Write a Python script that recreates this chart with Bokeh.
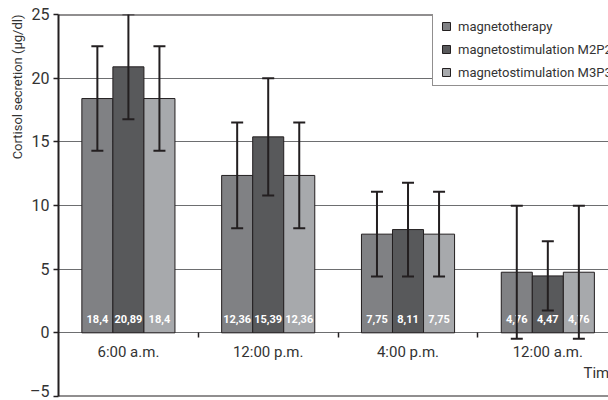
from bokeh.plotting import figure
from bokeh.models import (ColumnDataSource, Range1d, FixedTicker, LinearAxis, Whisker, TeeHead,
                          Legend, LegendItem, Span, Title)
from bokeh.core.properties import value
from bokeh.embed import file_html
from bokeh.resources import INLINE

# ---- data ----
times = ["6:00 a.m.", "12:00 p.m.", "4:00 p.m.", "12:00 a.m."]
series_names = ["magnetotherapy", "magnetostimulation M2P2", "magnetostimulation M3P3"]
magnetotherapy = [18.4, 12.36, 7.75, 4.76]
m2p2 = [20.89, 15.39, 8.11, 4.47]
m3p3 = [18.4, 12.36, 7.75, 4.76]
err_magnetotherapy = [4.1, 4.15, 3.33, 5.22]
err_m2p2 = [4.12, 4.6, 3.68, 2.72]
err_m3p3 = [4.1, 4.15, 3.33, 5.22]
y_ticks = [-5, 0, 5, 10, 15, 20, 25]
y_label = "Cortisol secretion (µg/dl)"
x_label = "Time"

# ---- style ----
FONT = "Roboto"
TXT = "#333333"
DARK = "#231f20"
colors = ["#808184", "#58595b", "#a7a9ac"]
bar_w = 0.222
ncat = len(times)

p = figure(width=608, height=400, x_range=Range1d(0, 3.934), y_range=Range1d(-5, 25),
           x_axis_type=None, output_backend="svg", toolbar_location=None,
           min_border_left=58, min_border_right=0, min_border_top=14, min_border_bottom=4)
p.outline_line_color = None
p.background_fill_color = "white"
p.border_fill_color = "white"

# y axis
yax = p.yaxis[0]
yax.ticker = FixedTicker(ticks=y_ticks)
yax.major_label_overrides = {-5: "–5"}
yax.axis_line_color = DARK
yax.axis_line_width = 2
yax.major_tick_line_color = DARK
yax.major_tick_line_width = 1.5
yax.major_tick_out = 5
yax.major_tick_in = 0
yax.minor_tick_line_color = None
yax.major_label_standoff = 4
yax.major_label_text_font = FONT
yax.major_label_text_font_size = "16px"
yax.major_label_text_color = TXT
p.ygrid.grid_line_color = "#6d6e70"
p.ygrid.grid_line_width = 1

# frame top / bottom lines
p.add_layout(Span(location=25, dimension="width", line_color=DARK, line_width=2))
p.add_layout(Span(location=-5, dimension="width", line_color=DARK, line_width=2))

# x axis at y=0: boundary ticks
centers = [i + 0.5 for i in range(ncat)]
bounds = [i for i in range(1, ncat)]
xt = LinearAxis(ticker=FixedTicker(ticks=bounds), fixed_location=0,
                major_label_overrides={b: "" for b in bounds},
                axis_line_color=None, major_tick_line_color=DARK, major_tick_line_width=1.5,
                major_tick_out=5, major_tick_in=0, minor_tick_line_color=None)
p.add_layout(xt, "below")
xl = LinearAxis(ticker=FixedTicker(ticks=centers), fixed_location=0,
                major_label_overrides={c: t for c, t in zip(centers, times)},
                axis_line_color=None, major_tick_line_color=None, minor_tick_line_color=None,
                major_tick_out=0, major_tick_in=0, major_label_standoff=10,
                major_label_text_font=FONT, major_label_text_font_size="15px",
                major_label_text_color=TXT)
p.add_layout(xl, "below")

# bars
all_vals = [magnetotherapy, m2p2, m3p3]
all_errs = [err_magnetotherapy, err_m2p2, err_m3p3]
wx, wu, wl = [], [], []
lx, ly, lt = [], [], []
legend_items = []
for k, (vals, errs, col, name) in enumerate(zip(all_vals, all_errs, colors, series_names)):
    off = (k - 1) * bar_w
    xs = [c + off for c in centers]
    src = ColumnDataSource(dict(x=xs, top=vals))
    p.vbar(x="x", top="top", bottom=0, width=bar_w, source=src,
           fill_color=col, line_color=DARK, line_width=1)
    # hidden proxy used only for the small square legend swatch
    proxy = p.scatter(x="x", y="top", source=src, marker="square", size=8,
                      fill_color=col, line_color=DARK, line_width=1, visible=False)
    legend_items.append(LegendItem(label=name, renderers=[proxy]))
    for x, v, e in zip(xs, vals, errs):
        wx.append(x); wu.append(v + e); wl.append(v - e)
        lx.append(x); ly.append(1.05); lt.append(("%g" % v).replace(".", ","))

# value labels
p.text(x=lx, y=ly, text=lt, text_align="center", text_baseline="middle",
       text_color="white", text_font=value(FONT), text_font_style="bold",
       text_font_size="11px")

# error bars
wsrc = ColumnDataSource(dict(base=wx, upper=wu, lower=wl))
p.add_layout(Whisker(source=wsrc, base="base", upper="upper", lower="lower",
                     line_color=DARK, line_width=2, level="overlay",
                     upper_head=TeeHead(size=12, line_color=DARK, line_width=2),
                     lower_head=TeeHead(size=12, line_color=DARK, line_width=2)))

# x axis title (clipped at right like the original)
p.text(x=[3.755], y=[-3.14], text=[x_label], text_align="left", text_baseline="middle",
       text_color=TXT, text_font=value(FONT), text_font_size="15px")

# y axis title
p.add_layout(Title(text=y_label, align="right", text_font=FONT, text_font_size="13px",
                   text_font_style="normal", text_color=TXT, standoff=6), "left")

# legend
leg = Legend(items=legend_items, location=(374, 310), padding=3, spacing=3,
             glyph_width=20, glyph_height=20, label_height=20, label_standoff=2,
             label_text_font=FONT, label_text_font_size="13px", label_text_color=TXT,
             border_line_color=DARK, border_line_width=1.5, background_fill_color="white",
             background_fill_alpha=1, margin=0)
p.add_layout(leg)

open("out.html", "w").write(file_html(p, INLINE))
